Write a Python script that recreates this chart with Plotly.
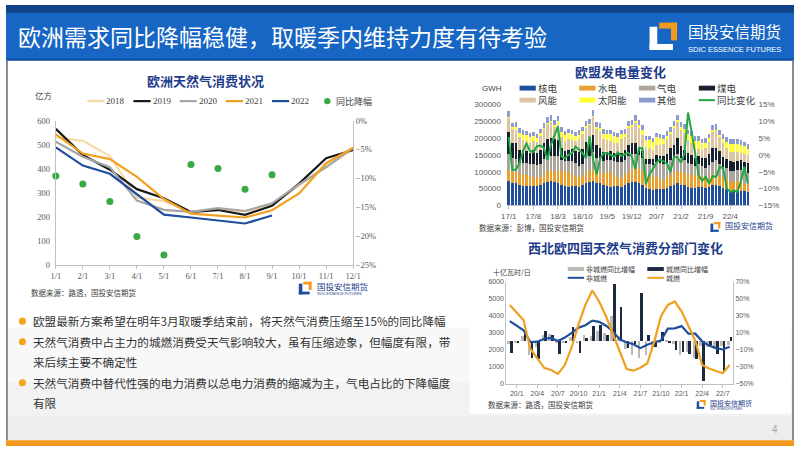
import numpy as np
import plotly.graph_objects as go

W, H = 802, 451

# ---- 欧洲天然气消费状况（亿方） ----
gas_months = ['1/1', '2/1', '3/1', '4/1', '5/1', '6/1', '7/1', '8/1', '9/1', '10/1', '11/1', '12/1']
gas_2018 = [530, 516, 453, 280, 265, 218, 232, 222, 250, 330, 410, 482]
gas_2019 = [566, 457, 396, 315, 277, 220, 228, 208, 246, 338, 444, 478]
gas_2020 = [512, 450, 406, 267, 229, 220, 236, 224, 256, 335, 406, 487]
gas_2021 = [543, 463, 440, 366, 274, 213, 205, 197, 227, 297, 423, 487]
gas_2022 = [489, 413, 379, 295, 209, 197, 186, 172, 205]
gas_yoy = [-9.6, -11.0, -14.0, -20.1, -23.3, -7.6, -8.3, -11.9, -9.4]

# ---- 欧盟发电量变化（千GWH，17/1 - 22/9） ----
power_ticks = ['17/1', '17/8', '18/3', '18/10', '19/5', '19/12', '20/7', '21/2', '21/9', '22/4']
nuclear = [74, 68, 66, 60, 58, 57, 58, 58, 57, 60, 66, 70,
           72, 70, 68, 60, 57, 56, 58, 57, 56, 60, 66, 70,
           74, 68, 66, 60, 58, 56, 57, 57, 56, 60, 66, 70,
           70, 66, 62, 52, 48, 47, 50, 50, 48, 52, 58, 62,
           66, 62, 60, 55, 52, 52, 54, 54, 52, 56, 60, 62,
           58, 52, 50, 44, 42, 42, 43, 42, 41]
hydro = [32, 30, 33, 32, 36, 34, 30, 26, 24, 24, 28, 32,
         32, 30, 36, 42, 44, 44, 36, 30, 26, 26, 30, 34,
         32, 32, 34, 34, 40, 42, 34, 28, 26, 30, 34, 38,
         38, 44, 40, 36, 42, 38, 36, 30, 28, 32, 32, 36,
         36, 36, 36, 34, 40, 36, 38, 32, 28, 28, 30, 34,
         30, 32, 28, 26, 32, 30, 26, 22, 22]
gas_power = [48, 42, 40, 34, 32, 36, 36, 40, 38, 40, 44, 46,
             44, 48, 42, 32, 30, 32, 38, 38, 36, 38, 46, 44,
             52, 42, 40, 38, 36, 38, 40, 44, 46, 44, 46, 46,
             46, 40, 38, 34, 32, 36, 42, 46, 46, 42, 46, 46,
             52, 44, 40, 36, 32, 30, 30, 30, 32, 36, 40, 40,
             36, 30, 32, 32, 28, 32, 36, 36, 34]
coal = [64, 46, 46, 40, 38, 34, 32, 40, 38, 42, 48, 50,
        52, 50, 48, 36, 32, 34, 36, 38, 40, 44, 46, 44,
        50, 38, 32, 28, 26, 26, 26, 26, 28, 30, 34, 32,
        32, 24, 22, 16, 16, 18, 22, 22, 24, 26, 34, 36,
        46, 36, 30, 30, 26, 24, 24, 26, 28, 34, 40, 36,
        38, 30, 28, 30, 26, 28, 30, 30, 30]
wind = [42, 40, 38, 36, 30, 30, 30, 28, 32, 40, 40, 44,
        48, 36, 46, 34, 28, 30, 26, 28, 40, 44, 42, 46,
        54, 46, 46, 36, 34, 30, 28, 30, 42, 40, 50, 48,
        60, 56, 48, 36, 34, 27, 30, 33, 36, 46, 42, 50,
        48, 46, 48, 38, 36, 26, 22, 23, 30, 34, 48, 48,
        40, 42, 32, 28, 30, 26, 20, 22, 24]
solar = [4, 6, 10, 14, 16, 17, 17, 15, 11, 8, 5, 4,
         4, 6, 10, 15, 18, 18, 19, 16, 12, 8, 5, 4,
         5, 8, 11, 16, 18, 20, 20, 18, 13, 9, 6, 5,
         6, 8, 13, 19, 22, 22, 22, 19, 14, 9, 6, 5,
         6, 9, 14, 18, 21, 24, 24, 20, 16, 11, 7, 5,
         7, 11, 18, 22, 25, 26, 26, 24, 18]
other = [16, 14, 14, 13, 13, 12, 12, 12, 13, 14, 15, 16,
         16, 15, 15, 13, 13, 12, 12, 12, 13, 14, 15, 16,
         16, 15, 15, 14, 13, 13, 13, 13, 14, 14, 15, 16,
         16, 15, 15, 13, 13, 13, 13, 13, 14, 14, 15, 16,
         16, 15, 15, 14, 13, 13, 13, 13, 14, 14, 15, 16,
         16, 15, 15, 14, 13, 13, 13, 13, 13]
power_yoy = [5.3, -4.4, -4.4, -2.5, 0.8, 3.5, 1.2, 0.8, 2.6, 2.8, 2.2, -1.5,
             3.0, 6.0, 8.5, -0.5, -1.0, 0.0, 0.5, 2.5, 1.5, 0.5, -1.0, 5.5,
             -1.5, -5.8, -1.0, 0.5, 0.5, 0.0, -0.5, 0.8, -0.3, 0.2, 0.6, -0.5,
             -4.2, 2.0, 2.0, -8.7, -5.8, -4.2, -2.3, -1.3, -2.0, -2.5, -5.0, -0.5,
             -0.8, -2.3, 0.5, 12.6, 7.0, 0.5, -6.0, -7.7, -6.5, -8.5, -6.3, -6.5,
             -3.5, -4.0, -10.0, -11.0, -10.5, -11.0, -8.0, -3.5, -8.5]

# ---- 西北欧四国天然气消费分部门变化（十亿瓦时/日，19/12 - 22/8） ----
sector_ticks = ['20/1', '20/4', '20/7', '20/10', '21/1', '21/4', '21/7', '21/10', '22/1', '22/4', '22/7']
non_city = [3690, 3400, 3150, 2450, 2480, 2650, 2700, 2520, 2720, 3000, 3300,
            3450, 3720, 3650, 3420, 3100, 2600, 2450, 2330, 2100, 2300, 2450,
            2550, 3250, 3270, 3400, 2950, 2950, 2500, 2250, 2100, 2020, 2180]
city = [4650, 4170, 3750, 2050, 1520, 940, 810, 580, 1100, 2150, 3500,
        4650, 5500, 4850, 3980, 2920, 1960, 870, 770, 940, 1190, 2440,
        3980, 4650, 4850, 4270, 3400, 2540, 1100, 900, 750, 620, 1100]
non_city_yoy = [-3, -1, 6.5, -16.5, -7, 7.7, 8.5, -1, -1, 4.6, -1,
                7.7, 6.5, 12.3, 10.4, 29.6, 6.5, -9.6, -15.8, -19.6, -16.5, -7,
                -2, 2, -3, -16.5, -12, -19.6, -5, -7, -8.8, -5, -3.8]
city_yoy = [-13.5, -2, 8.5, -19.6, -21, 12.3, 7.3, -14.6, -1, 17.3, -13.8,
            3.8, 18, 18.8, 7.3, 68, 41, -8, -3, 56.5, 7.7, -7,
            11.5, -1, -10.8, -12, -14.6, -20.4, -46.5, -4.2, -14.6, -35.8, 4.6]

bullets = [
    ('欧盟最新方案希望在明年3月取暖季结束前，将天然气消费压缩至15%的同比降幅', True),
    ('天然气消费中占主力的城燃消费受天气影响较大，虽有压缩迹象，但幅度有限，带', True),
    ('来后续主要不确定性', False),
    ('天然气消费中替代性强的电力消费以总电力消费的缩减为主，气电占比的下降幅度', True),
    ('有限', False),
]

CJK = 'Noto Sans CJK SC'
SERIF = 'Liberation Serif, Noto Sans CJK SC'
SANS = 'Liberation Sans, Noto Sans CJK SC'
TICK = '#595959'
AXIS = '#bfbfbf'
TITLE = '#1f3d8a'
BLUE = '#1f4e9c'
ORANGE = '#f0a020'

shapes, annotations = [], []


def rect(x0, y0, x1, y1, color, layer='above'):
    shapes.append(dict(type='rect', xref='paper', yref='paper', x0=x0 / W, x1=x1 / W,
                       y0=1 - y1 / H, y1=1 - y0 / H, fillcolor=color, line_width=0, layer=layer))


def seg(x0, y0, x1, y1, color, width):
    shapes.append(dict(type='line', xref='paper', yref='paper', x0=x0 / W, x1=x1 / W,
                       y0=1 - y0 / H, y1=1 - y1 / H, line=dict(color=color, width=width)))


def dot(cx, cy, r, color):
    shapes.append(dict(type='circle', xref='paper', yref='paper', x0=(cx - r) / W, x1=(cx + r) / W,
                       y0=1 - (cy + r) / H, y1=1 - (cy - r) / H, fillcolor=color, line_width=0))


def text(x, y, s, size, color, family=CJK, anchor='left'):
    annotations.append(dict(xref='paper', yref='paper', x=x / W, y=1 - y / H, text=s, showarrow=False,
                            xanchor=anchor, yanchor='middle', borderpad=0,
                            font=dict(size=size, color=color, family=family)))


def logo(x0, y0, s, txt_color, l_color, name_size, en_size=None):
    # L shape and orange corner of the company mark
    rect(x0, y0 + 0.15 * s, x0 + 0.28 * s, y0 + s, l_color)
    rect(x0, y0 + 0.78 * s, x0 + 0.85 * s, y0 + s, l_color)
    rect(x0 + 0.35 * s, y0, x0 + s, y0 + 0.22 * s, '#f39a1e')
    rect(x0 + 0.78 * s, y0, x0 + s, y0 + 0.65 * s, '#f39a1e')
    text(x0 + 1.35 * s, y0 + 0.3 * s, '国投安信期货', name_size, txt_color)
    if en_size:
        text(x0 + 1.35 * s, y0 + 0.98 * s, 'SDIC ESSENCE FUTURES', en_size, txt_color,
             'Liberation Sans Narrow, Liberation Sans')


# background, header and footer
rect(0, 330, W, 445, '#f8f8f8', 'below')
rect(0, 385, W, 445, '#f2f2f2', 'below')
rect(0, 420, W, 445, '#ededed', 'below')
rect(472, 237, 799, 418, 'white', 'below')
rect(0, 0, W, 56, '#1766c4', 'below')
rect(0, 0, W, 8, '#0f4289', 'below')
rect(0, 55, W, 57, '#0e4a9e', 'below')
rect(0, 445, W, H, '#f39a1e', 'below')
seg(1, 57, 1, 445, '#8c8c8c', 2)
seg(801, 57, 801, 445, '#8c8c8c', 2)
text(11, 32, '欧洲需求同比降幅稳健，取暖季内维持力度有待考验', 23, 'white')
logo(655, 18, 28, 'white', 'white', 15.5, 7.5)
text(779, 434, '4', 10, '#a6a6a6', SANS)

fig = go.Figure()

# ---- chart 1 ----
x1 = np.arange(len(gas_months))
year_series = [('2018', gas_2018, '#f7d9a6'), ('2019', gas_2019, '#1a1a1a'), ('2020', gas_2020, '#a6a6a6'),
               ('2021', gas_2021, ORANGE), ('2022', gas_2022, BLUE)]
for name, vals, color in year_series:
    fig.add_trace(go.Scatter(x=x1[:len(vals)], y=vals, mode='lines', name=name,
                             line=dict(color=color, width=2.2), xaxis='x', yaxis='y'))
fig.add_trace(go.Scatter(x=x1[:len(gas_yoy)], y=gas_yoy, mode='markers', name='同比降幅', cliponaxis=False,
                         marker=dict(color='#3aa845', size=7), xaxis='x', yaxis='y2'))

text(203, 77, '<b>欧洲天然气消费状况</b>', 13, TITLE, anchor='center')
text(28, 92, '亿方', 8.5, '#404040')
for i, (name, vals, color) in enumerate(year_series):
    xs = 82.7 + i * 47
    seg(xs, 98.3, xs + 17.5, 98.3, color, 2.2)
    text(xs + 18.5, 98.3, name, 9, '#404040', SERIF)
dot(327, 98.3, 3.3, '#3aa845')
text(335, 98.3, '同比降幅', 9, '#404040', SERIF)
text(24, 294, '数据来源：路透，国投安信期货', 7.5, '#404040')
logo(298, 283, 13, '#1f3d8a', BLUE, 8.5, 3.6)

# ---- chart 2 ----
x2 = np.arange(len(nuclear))
power_series = [('核电', nuclear, '#1f4e9c'), ('水电', hydro, '#e8a030'), ('气电', gas_power, '#aca59c'),
                ('煤电', coal, '#16202e'), ('风能', wind, '#dcc6a2'), ('太阳能', solar, '#ffff33'),
                ('其他', other, '#8d9bd2')]
for name, vals, color in power_series:
    fig.add_trace(go.Bar(x=x2, y=np.array(vals) * 1000, name=name, marker=dict(color=color, line_width=0),
                         xaxis='x2', yaxis='y3'))
fig.add_trace(go.Scatter(x=x2, y=power_yoy, mode='lines', name='同比变化',
                         line=dict(color='#22a844', width=2), xaxis='x2', yaxis='y4'))

text(625, 68, '<b>欧盟发电量变化</b>', 13, TITLE, anchor='center')
text(483, 85, 'GWH', 8, '#404040', SANS)
for i, (name, vals, color) in enumerate(power_series):
    xs = 522.7 + (i % 4) * 60.8
    ys = 85 if i < 4 else 97.3
    rect(xs, ys - 2.5, xs + 16.5, ys + 2.5, color)
    text(xs + 17.5, ys, name, 9.5, '#404040', SERIF)
seg(705, 97.3, 721.5, 97.3, '#22a844', 2)
text(722.5, 97.3, '同比变化', 9.5, '#404040', SERIF)
text(480, 228, '数据来源：彭博，国投安信期货', 7.5, '#404040')
logo(717, 222, 10, '#1f3d8a', BLUE, 8)

# ---- chart 3 ----
x3 = np.arange(len(city))
fig.add_trace(go.Bar(x=x3 - 0.2, y=non_city_yoy, width=0.38, name='非城燃同比增幅',
                     marker=dict(color='#bdb9b4', line_width=0), xaxis='x3', yaxis='y5'))
fig.add_trace(go.Bar(x=x3 + 0.2, y=city_yoy, width=0.38, name='城燃同比增幅',
                     marker=dict(color='#1b2a40', line_width=0), xaxis='x3', yaxis='y5'))
fig.add_trace(go.Scatter(x=x3, y=non_city, mode='lines', name='非城燃',
                         line=dict(color=BLUE, width=2.2), xaxis='x3', yaxis='y6'))
fig.add_trace(go.Scatter(x=x3, y=city, mode='lines', name='城燃',
                         line=dict(color=ORANGE, width=2.2), xaxis='x3', yaxis='y6'))

text(630, 248, '<b>西北欧四国天然气消费分部门变化</b>', 13, TITLE, anchor='center')
text(495, 273, '十亿瓦时/日', 7, '#404040')
rect(571.7, 268, 588.3, 272, '#bdb9b4')
text(589.5, 270, '非城燃同比增幅', 7, '#404040')
rect(652.7, 268, 669.5, 272, '#1b2a40')
text(670.5, 270, '城燃同比增幅', 7, '#404040')
seg(571.7, 279, 588.3, 279, BLUE, 2)
text(589.5, 279, '非城燃', 7, '#404040')
seg(652.7, 279, 669.5, 279, ORANGE, 2)
text(670.5, 279, '城燃', 7, '#404040')
text(490, 409, '数据来源：路透，国投安信期货', 7.5, '#404040')
logo(703, 404, 9, '#1f3d8a', BLUE, 7, 2.6)

# ---- bullets ----
for i, (line, has_dot) in enumerate(bullets):
    yy = 323.3 + i * 21
    if has_dot:
        dot(16.7, yy, 3.6, '#f5a31a')
    text(26, yy, line, 11.6, '#333333')


def dom_x(a, b):
    return [a / W, b / W]


def dom_y(top, bottom):
    return [1 - bottom / H, 1 - top / H]


tick1 = dict(family=SERIF, size=8.5, color=TICK)
tick2 = dict(family=SANS, size=8, color=TICK)
tick3 = dict(family=SANS, size=7, color=TICK)

fig.update_layout(
    width=W, height=H, margin=dict(l=0, r=0, t=0, b=0),
    paper_bgcolor='white', plot_bgcolor='rgba(0,0,0,0)',
    showlegend=False, barmode='stack', bargap=0.28,
    shapes=shapes, annotations=annotations,
    xaxis=dict(domain=dom_x(50.7, 353.3), anchor='y', range=[0, 11], tickvals=list(x1), ticktext=gas_months,
               showline=True, linecolor=AXIS, ticks='outside', ticklen=3, tickcolor=AXIS,
               showgrid=False, zeroline=False, tickfont=tick1),
    yaxis=dict(domain=dom_y(118.3, 265.7), anchor='x', range=[0, 600], dtick=100, showline=True,
               linecolor=AXIS, showgrid=False, zeroline=False, tickfont=tick1, ticklabelstandoff=3),
    yaxis2=dict(overlaying='y', side='right', anchor='x', range=[-25, 0], dtick=5, ticksuffix='%',
                showline=True, linecolor=AXIS, showgrid=False, zeroline=False, tickfont=tick1),
    xaxis2=dict(domain=dom_x(509.9, 756.8), anchor='y3', range=[-0.5, len(nuclear) - 0.5],
                tickvals=[0, 7, 14, 21, 28, 35, 42, 49, 56, 63], ticktext=power_ticks,
                showline=True, linecolor=AXIS, ticks='outside', ticklen=3, tickcolor=AXIS,
                showgrid=False, zeroline=False, tickfont=tick2),
    yaxis3=dict(domain=dom_y(101.7, 205), anchor='x2', range=[0, 300000], dtick=50000, tickformat='d',
                showgrid=False, zeroline=False, tickfont=tick2, ticklabelstandoff=5),
    yaxis4=dict(overlaying='y3', side='right', anchor='x2', range=[-15, 15], dtick=5, ticksuffix='%',
                showgrid=False, zeroline=False, tickfont=tick2, ticklabelstandoff=8),
    xaxis3=dict(domain=dom_x(509.3, 740), anchor='y5', range=[-0.5, len(city) - 0.5],
                tickvals=[1, 4, 7, 10, 13, 16, 19, 22, 25, 28, 31], ticktext=sector_ticks,
                showline=True, linecolor=AXIS, ticks='outside', ticklen=3, tickcolor=AXIS,
                showgrid=False, zeroline=False, tickfont=tick3),
    yaxis5=dict(domain=dom_y(283.3, 387.3), anchor='x3', side='right', range=[-50, 70], tick0=-50, dtick=20,
                ticksuffix='%', showline=True, linecolor=AXIS, showgrid=False, zeroline=False, tickfont=tick3),
    yaxis6=dict(overlaying='y5', side='left', anchor='x3', range=[0, 6000], dtick=1000, showline=True,
                linecolor=AXIS, showgrid=False, zeroline=False, tickfont=tick3),
)

# the page body has a default 8px margin; drop it so the figure fills the window exactly
fig.write_html('out.html', config={'displayModeBar': False},
               post_script="document.body.style.margin='0';")
